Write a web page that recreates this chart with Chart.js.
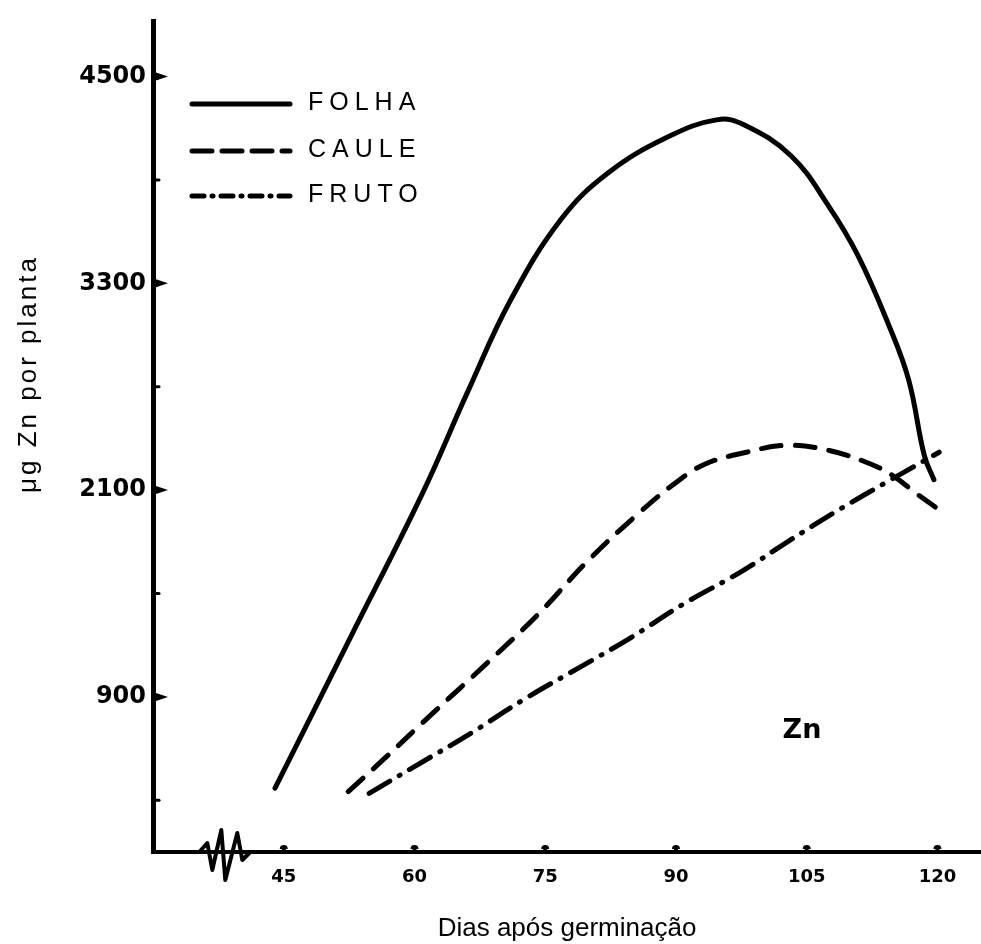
<!DOCTYPE html>
<html>
<head>
<meta charset="utf-8">
<script src="https://cdn.jsdelivr.net/npm/chart.js@4/dist/chart.umd.min.js"></script>
<style>
  html, body { margin: 0; padding: 0; background: #fff; }
  #wrap { width: 981px; height: 944px; }
</style>
</head>
<body>
<div id="wrap"><canvas id="c" width="981" height="944"></canvas></div>
<script>
// ---- data ----
const seriesNames = ['FOLHA', 'CAULE', 'FRUTO'];

const folhaDays   = [44.0, 52.6, 60.9, 66.1, 71.0, 76.8, 82.2, 89.1, 94.8, 97.8, 103.2, 107.5, 110.9, 114.4, 116.7, 118.5, 119.6];
const folhaValues = [370, 1240, 2080, 2670, 3200, 3670, 3940, 4150, 4250, 4220, 4040, 3750, 3460, 3060, 2740, 2300, 2160];

const cauleDays   = [52.4, 56.5, 62.2, 68.2, 74.2, 79.9, 85.6, 89.9, 93.3, 98.1, 102.8, 107.6, 112.4, 115.0, 117.6, 119.8];
const cauleValues = [350, 540, 810, 1090, 1380, 1690, 1960, 2140, 2250, 2320, 2360, 2330, 2250, 2180, 2080, 2000];

const frutoDays   = [54.8, 59.8, 66.5, 72.7, 78.9, 84.7, 90.9, 97.6, 102.8, 108.5, 114.3, 120.2];
const frutoValues = [340, 490, 690, 890, 1070, 1240, 1440, 1630, 1800, 1980, 2150, 2320];

const xTickValues  = [45, 60, 75, 90, 105, 120];
const yTickValues  = [300, 900, 1500, 2100, 2700, 3300, 3900, 4500];
const yLabelValues = [900, 2100, 3300, 4500];

const xTitle = 'Dias após germinação';
const yTitle = 'μg Zn por planta';
const panelLabel = 'Zn';

// ---- helpers ----
const toPoints = (xs, ys) => xs.map((d, i) => ({ x: d, y: ys[i] }));

const decor = {
  id: 'decor',
  afterDraw(chart) {
    const { ctx, scales: { x, y } } = chart;
    const ax = chart.chartArea.left;
    const by = chart.chartArea.bottom;
    ctx.save();
    ctx.fillStyle = '#000';
    ctx.strokeStyle = '#000';
    ctx.lineCap = 'round';

    // y-axis ticks pointing into the plot
    yTickValues.forEach(v => {
      const py = y.getPixelForValue(v);
      if (yLabelValues.includes(v)) {
        ctx.beginPath();
        ctx.moveTo(ax, py - 5);
        ctx.lineTo(ax + 15, py);
        ctx.lineTo(ax, py + 5);
        ctx.closePath();
        ctx.fill();
      } else {
        ctx.lineWidth = 3;
        ctx.beginPath();
        ctx.moveTo(ax, py);
        ctx.lineTo(ax + 6, py);
        ctx.stroke();
      }
    });

    // x-axis ticks (small bumps upward)
    xTickValues.forEach(v => {
      const px = x.getPixelForValue(v);
      ctx.beginPath();
      ctx.arc(px, by - 3, 4, Math.PI, 0);
      ctx.fill();
      ctx.fillRect(px - 2, by - 6, 4, 6);
    });

    // axis break squiggle
    const bx = x.getPixelForValue(36);
    const sq = [[-6, 0], [2, -9], [7, 18], [16, -22], [20, 28], [32, -19], [37, 8], [45, 0]];
    ctx.lineWidth = 4;
    ctx.lineJoin = 'round';
    ctx.beginPath();
    sq.forEach(([dx, dy], i) => {
      if (i === 0) ctx.moveTo(bx + dx, by + dy); else ctx.lineTo(bx + dx, by + dy);
    });
    ctx.stroke();

    // legend inside plot (top-left)
    const legY = [104, 151, 196];
    chart.data.datasets.forEach((ds, i) => {
      ctx.save();
      ctx.lineWidth = 5;
      ctx.lineCap = 'round';
      ctx.setLineDash(ds.legendDash || []);
      ctx.beginPath();
      ctx.moveTo(192, legY[i]);
      ctx.lineTo(290, legY[i]);
      ctx.stroke();
      ctx.restore();
      ctx.font = '25px "Liberation Sans", Arial, sans-serif';
      if ('letterSpacing' in ctx) ctx.letterSpacing = '6px';
      ctx.textAlign = 'left';
      ctx.textBaseline = 'middle';
      ctx.fillText(ds.label, 308, legY[i] - 1);
      if ('letterSpacing' in ctx) ctx.letterSpacing = '0px';
    });

    // panel label
    ctx.font = '600 27px "DejaVu Sans", sans-serif';
    ctx.textAlign = 'center';
    ctx.textBaseline = 'middle';
    ctx.fillText(panelLabel, 802, 731);

    // y axis title
    ctx.save();
    ctx.translate(29, 374);
    ctx.rotate(-Math.PI / 2);
    ctx.font = '26px "Liberation Sans", Arial, sans-serif';
    if ('letterSpacing' in ctx) ctx.letterSpacing = '3px';
    ctx.textAlign = 'center';
    ctx.textBaseline = 'middle';
    ctx.fillText(yTitle, 0, 0);
    if ('letterSpacing' in ctx) ctx.letterSpacing = '0px';
    ctx.restore();

    ctx.restore();
  }
};

const common = {
  fill: false,
  borderColor: '#000',
  borderWidth: 5,
  pointRadius: 0,
  tension: 0.4,
  borderCapStyle: 'round',
};

new Chart(document.getElementById('c'), {
  type: 'line',
  data: {
    datasets: [
      { ...common, label: seriesNames[0], data: toPoints(folhaDays, folhaValues), borderDash: [], legendDash: [] },
      { ...common, label: seriesNames[1], data: toPoints(cauleDays, cauleValues), borderDash: [20, 14], legendDash: [20, 10] },
      { ...common, label: seriesNames[2], data: toPoints(frutoDays, frutoValues), borderDash: [24, 11, 1, 11], legendDash: [12, 8, 1, 8] },
    ]
  },
  options: {
    responsive: false,
    animation: false,
    layout: { padding: { top: 18, right: 0, left: 0, bottom: 0 } },
    plugins: { legend: { display: false }, tooltip: { enabled: false } },
    scales: {
      x: {
        type: 'linear',
        min: 30,
        max: 125,
        afterFit: s => { s.height = 92; },
        afterBuildTicks: s => { s.ticks = xTickValues.map(v => ({ value: v })); },
        grid: { display: false, drawTicks: false },
        border: { display: true, color: '#000', width: 4 },
        ticks: {
          color: '#000',
          padding: 15,
          maxRotation: 0,
          autoSkip: false,
          font: { family: '"DejaVu Sans", sans-serif', size: 18, weight: 'bold' },
          callback: v => String(v),
        },
        title: {
          display: true,
          text: xTitle,
          color: '#000',
          padding: { top: 0, bottom: 0 },
          font: { family: '"Liberation Sans", Arial, sans-serif', size: 26 },
        },
      },
      y: {
        type: 'linear',
        min: 0,
        max: 4820,
        afterFit: s => { s.width = 153; },
        afterBuildTicks: s => { s.ticks = yTickValues.map(v => ({ value: v })); },
        grid: { display: false, drawTicks: false },
        border: { display: true, color: '#000', width: 5 },
        ticks: {
          color: '#000',
          padding: 7,
          autoSkip: false,
          font: { family: '"DejaVu Sans", sans-serif', size: 24, weight: 'bold' },
          callback: v => (yLabelValues.includes(v) ? String(v) : ''),
        },
      },
    },
  },
  plugins: [decor],
});
</script>
</body>
</html>
